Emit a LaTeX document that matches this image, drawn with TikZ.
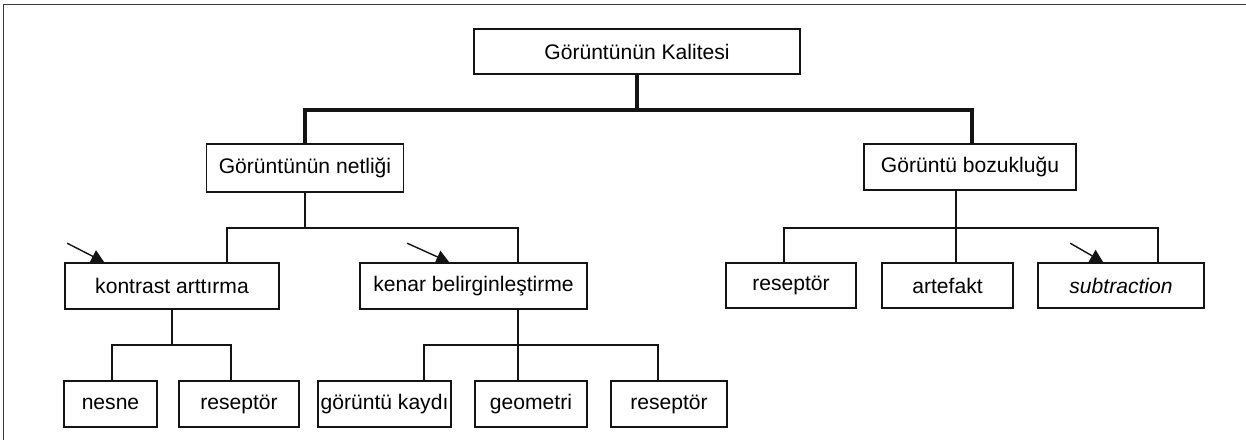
\documentclass[tikz,border=0pt]{standalone}
\usepackage{fontspec}
\setmainfont{Liberation Sans}
\usepackage{tikz}
\usetikzlibrary{arrows.meta,positioning,calc}
\definecolor{inkDark}{RGB}{20,20,20}
\definecolor{frameGray}{RGB}{60,60,60}
\tikzset{
  levelbox/.style={
    rectangle, draw=inkDark, line width=1.1pt, fill=white, inner sep=0pt,
    minimum height=1.15cm, font=\fontsize{15}{18}\selectfont
  },
  rootbox/.style={levelbox, line width=2pt},
  treeLine/.style={draw=inkDark, line width=1.1pt},
  mainLine/.style={draw=inkDark, line width=2.2pt},
  noteArrow/.style={-{Triangle[length=0.32cm,width=0.34cm]}, line width=1pt, color=inkDark}
}

\begin{document}
\begin{tikzpicture}[x=0.025cm, y=-0.025cm]
  \useasboundingbox (0,0) rectangle (1246,440);
  \draw[frameGray, line width=0.7pt] (3,440) -- (3,4) -- (1246,4);

  \node[rootbox, minimum width=8.15cm, minimum height=1.125cm] (kalite) at (637,51.5) {Görüntünün Kalitesi};
  \node[levelbox, minimum width=4.925cm, minimum height=1.2cm] (netlik) at (305,168) {Görüntünün netliği};
  \node[levelbox, minimum width=5.3cm] (bozuk) at (970,167) {Görüntü bozukluğu};

  \node[levelbox, minimum width=5.35cm] (kontrast) at (172,286) {kontrast arttırma};
  \node[levelbox, minimum width=5.675cm] (kenar) at (473.5,286) {kenar belirginleştirme};
  \node[levelbox, minimum width=3.25cm, minimum height=1.125cm] (resB) at (791,285.5) {reseptör};
  \node[levelbox, minimum width=3.275cm, minimum height=1.125cm] (artefakt) at (947.5,285.5) {artefakt};
  \node[levelbox, minimum width=4.15cm, minimum height=1.125cm] (subtr) at (1121,285.5) {\itshape subtraction};

  \node[levelbox, minimum width=2.325cm] (nesne) at (110.5,404) {nesne};
  \node[levelbox, minimum width=3cm] (resK) at (239,404) {reseptör};
  \node[levelbox, minimum width=3.325cm] (kayit) at (384.5,404) {görüntü kaydı};
  \node[levelbox, minimum width=2.8cm] (geometri) at (531,404) {geometri};
  \node[levelbox, minimum width=2.9cm] (resE) at (669,404) {reseptör};

  % bars
  \coordinate (topL) at (305,110);
  \coordinate (topR) at (972,110);
  \coordinate (netL) at (227,228);
  \coordinate (netR) at (518,228);
  \coordinate (bozL) at (784,228);
  \coordinate (bozM) at (956,228);
  \coordinate (bozR) at (1158,228);
  \coordinate (konL) at (112,345);
  \coordinate (konR) at (231,345);
  \coordinate (kenL) at (424,345);
  \coordinate (kenR) at (658,345);

  \draw[mainLine] (kalite.south) -- (kalite.south |- topL);
  \draw[mainLine] (topL |- netlik.north) -- (topL) -- (topR) -- (topR |- bozuk.north);

  \draw[treeLine, line width=1.6pt] (netlik.south) -- (netlik.south |- netL);
  \draw[treeLine] (netL |- kontrast.north) -- (netL) -- (netR) -- (netR |- kenar.north);

  \draw[treeLine] (bozM |- bozuk.south) -- (bozM |- artefakt.north);
  \draw[treeLine] (bozL |- resB.north) -- (bozL) -- (bozR) -- (bozR |- subtr.north);

  \draw[treeLine] (kontrast.south) -- (kontrast.south |- konL);
  \draw[treeLine] (konL |- nesne.north) -- (konL) -- (konR) -- (konR |- resK.north);

  \draw[treeLine] (netR |- kenar.south) -- (netR |- geometri.north);
  \draw[treeLine] (kenL |- kayit.north) -- (kenL) -- (kenR) -- (kenR |- resE.north);

  % note arrows
  \draw[noteArrow] ($(kontrast.north west)+(3,-19)$) -- ($(kontrast.north west)+(40,0)$);
  \draw[noteArrow] ($(kenar.north west)+(48,-19)$) -- ($(kenar.north west)+(90,0)$);
  \draw[noteArrow] ($(subtr.north west)+(33,-19)$) -- ($(subtr.north west)+(66,0)$);
\end{tikzpicture}
\end{document}
